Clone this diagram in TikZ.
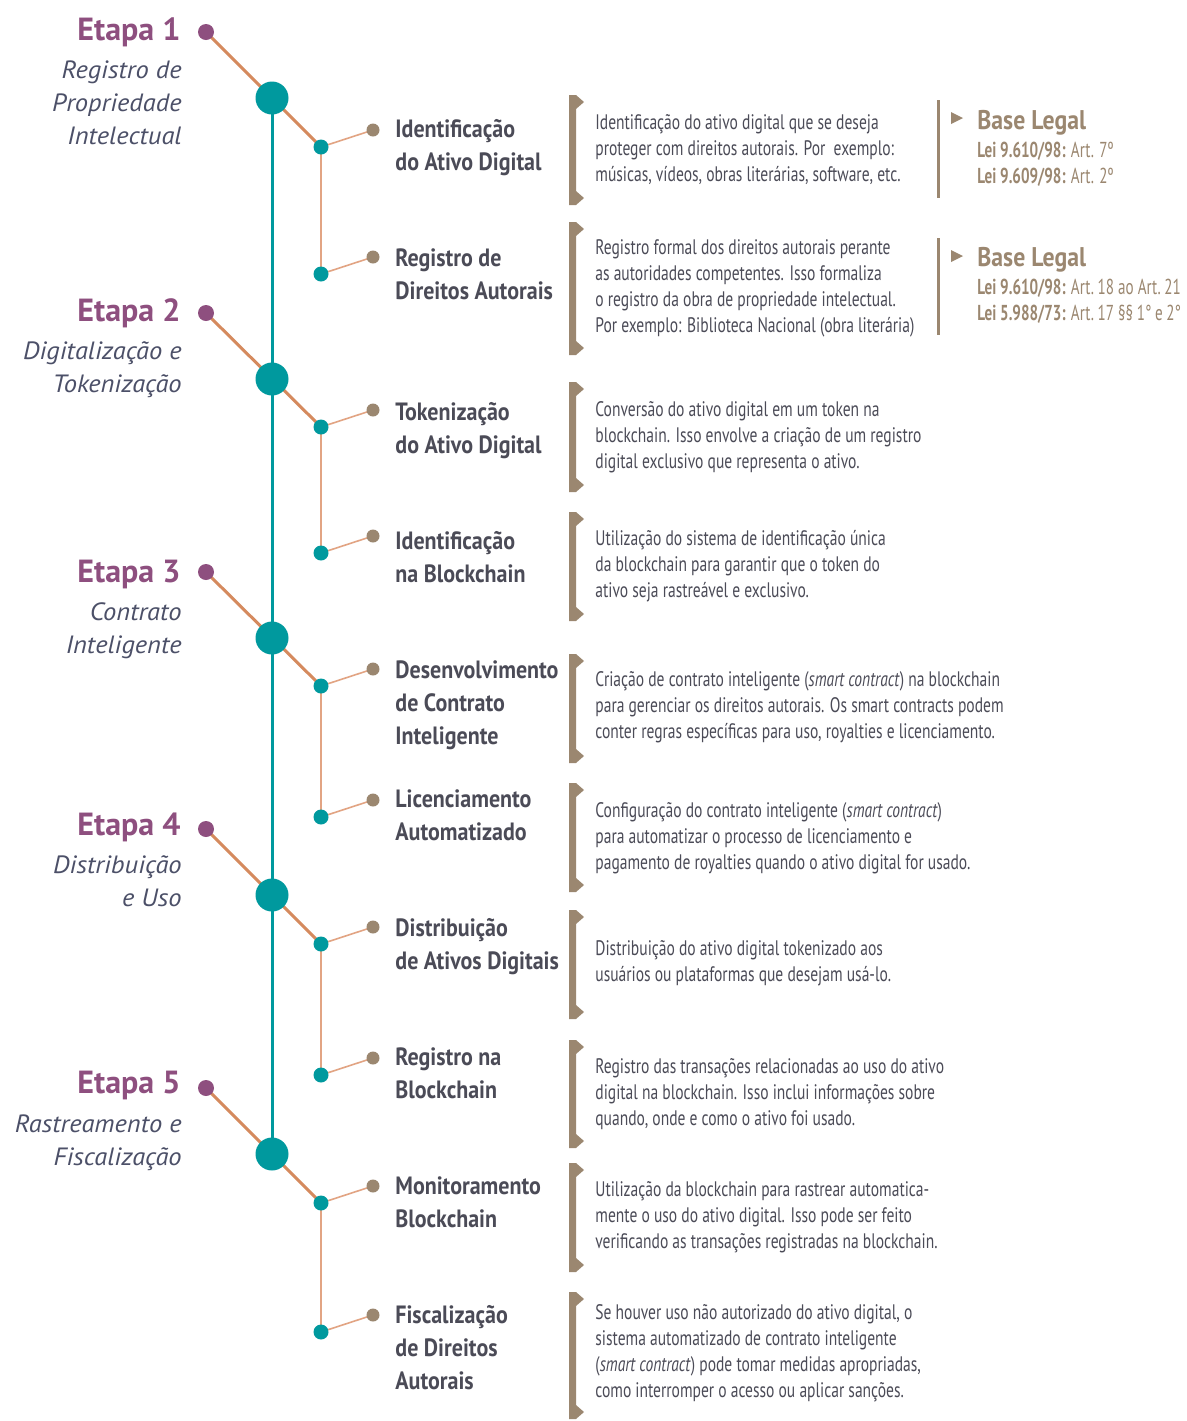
\documentclass[tikz,border=0pt]{standalone}
\usepackage{fontspec}
\setmainfont{PT Sans}
\newfontfamily\condfont{PT Sans}[FakeStretch=0.74]
\newfontfamily\legalfont{PT Sans}[FakeStretch=0.7]
\newfontfamily\labelfont{PT Sans}[FakeStretch=0.88]
\newfontfamily\stagefont{PT Sans}[FakeStretch=1.0]
\newfontfamily\subfont{PT Sans}[FakeStretch=1.06]
\usetikzlibrary{backgrounds}
\definecolor{Pc}{HTML}{8E4F7F}
\definecolor{Tc}{HTML}{00999E}
\definecolor{Oc}{HTML}{D58A5E}
\definecolor{Lc}{HTML}{E2A483}
\definecolor{Bc}{HTML}{9B8770}
\definecolor{Gc}{HTML}{4B4B57}
\definecolor{Ic}{HTML}{4C5068}

% bracket in front of each description
\newcommand{\descbar}[2]{%
  \fill[Bc] (569,#1) -- (576,#1) -- (584,#1+7) -- (576,#1+14)
    -- (576,#2-14) -- (584,#2-7) -- (576,#2) -- (569,#2) -- cycle;}

\begin{document}
\begin{tikzpicture}[x=0.5pt, y=-0.5pt,
    stagedot/.style={circle, fill=Pc, minimum size=8pt, inner sep=0pt},
    hub/.style={circle, fill=Tc, minimum size=16.5pt, inner sep=0pt},
    joint/.style={circle, fill=Tc, minimum size=7.5pt, inner sep=0pt},
    tip/.style={circle, fill=Bc, minimum size=6.5pt, inner sep=0pt},
    stagetitle/.style={anchor=base east, inner sep=0pt, text=Pc,
      font=\stagefont\bfseries\fontsize{16}{18}\selectfont},
    stagesub/.style={anchor=base east, align=right, inner sep=0pt, text=Ic,
      font=\subfont\itshape\fontsize{12.5}{16.5}\selectfont},
    steplabel/.style={anchor=base west, align=left, inner sep=0pt, text=Gc,
      font=\labelfont\bfseries\fontsize{12.5}{16.5}\selectfont},
    desc/.style={anchor=base west, align=left, inner sep=0pt, text=Gc,
      font=\condfont\fontsize{10.5}{13}\selectfont},
    legal/.style={anchor=base west, align=left, inner sep=0pt, text=Bc,
      font=\legalfont\fontsize{10.8}{13}\selectfont},
    legaltitle/.style={anchor=base west, inner sep=0pt, text=Bc,
      font=\labelfont\bfseries\fontsize{13.5}{16}\selectfont}]
  \useasboundingbox (0,0) rectangle (1187,1421);

  % dots of the timeline
  \foreach \i/\py/\ay/\by in {1/32/147/274, 2/313/427/553, 3/572/686/817,
      4/829/944/1075, 5/1088/1203/1332} {
    \node[stagedot] (p\i) at (206,\py) {};
    \node[hub] (b\i) at (272,\py+66) {};
    \node[joint] (ja\i) at (321,\ay) {};
    \node[joint] (jb\i) at (321,\by) {};
    \node[tip] (ta\i) at (373,\ay-17) {};
    \node[tip] (tb\i) at (373,\by-17) {};
  }

  \begin{scope}[on background layer]
    \fill[white] (0,0) rectangle (1187,1421);
    \draw[Tc, line width=1.5pt] (b1.center) -- (b5.center);
    \foreach \i in {1,...,5} {
      \draw[Oc, line width=1.5pt] (p\i.center) -- (ja\i.center);
      \draw[Lc, line width=0.8pt] (ja\i.center) -- (jb\i.center);
      \draw[Lc, line width=0.8pt] (ja\i.center) -- (ta\i.center);
      \draw[Lc, line width=0.8pt] (jb\i.center) -- (tb\i.center);
    }
  \end{scope}

  % stages (multi-line nodes sit on their last baseline)
  \node[stagetitle] (e1) at (181,40.5) {Etapa 1};
  \node[stagesub] (e1t) at (182,144.5) {Registro de\\Propriedade\\Intelectual};
  \node[stagetitle] (e2) at (181,321.5) {Etapa 2};
  \node[stagesub] (e2t) at (182,392.5) {Digitalização e\\Tokenização};
  \node[stagetitle] (e3) at (181,582.5) {Etapa 3};
  \node[stagesub] (e3t) at (182,653.5) {Contrato\\Inteligente};
  \node[stagetitle] (e4) at (181,835.5) {Etapa 4};
  \node[stagesub] (e4t) at (182,906.5) {Distribuição\\e Uso};
  \node[stagetitle] (e5) at (181,1093.5) {Etapa 5};
  \node[stagesub] (e5t) at (182,1165.5) {Rastreamento e\\Fiscalização};

  % step labels
  \node[steplabel] (l1) at (395,170) {Identificação\\do Ativo Digital};
  \node[steplabel] (l2) at (395,299) {Registro de\\Direitos Autorais};
  \node[steplabel] (l3) at (395,453) {Tokenização\\do Ativo Digital};
  \node[steplabel] (l4) at (395,582) {Identificação\\na Blockchain};
  \node[steplabel] (l5) at (395,744) {Desenvolvimento\\de Contrato\\Inteligente};
  \node[steplabel] (l6) at (395,840) {Licenciamento\\Automatizado};
  \node[steplabel] (l7) at (395,969) {Distribuição\\de Ativos Digitais};
  \node[steplabel] (l8) at (395,1098) {Registro na\\Blockchain};
  \node[steplabel] (l9) at (395,1227) {Monitoramento\\Blockchain};
  \node[steplabel] (l10) at (395,1389) {Fiscalização\\de Direitos\\Autorais};

  % descriptions
  \descbar{95}{205}
  \node[desc] (t1) at (595,181.5) {Identificação do ativo digital que se deseja\\proteger com direitos autorais. Por\ \ exemplo:\\músicas, vídeos, obras literárias, software, etc.};
  \descbar{222}{355}
  \node[desc] (t2) at (595,332.5) {Registro formal dos direitos autorais perante\\as autoridades competentes. Isso formaliza\\o registro da obra de propriedade intelectual.\\Por exemplo: Biblioteca Nacional (obra literária)};
  \descbar{382}{492}
  \node[desc] (t3) at (595,468.5) {Conversão do ativo digital em um token na\\blockchain. Isso envolve a criação de um registro\\digital exclusivo que representa o ativo.};
  \descbar{512}{621}
  \node[desc] (t4) at (595,597.5) {Utilização do sistema de identificação única\\da blockchain para garantir que o token do\\ativo seja rastreável e exclusivo.};
  \descbar{654}{763}
  \node[desc] (t5) at (595,738.5) {Criação de contrato inteligente (\textit{smart contract}) na blockchain\\para gerenciar os direitos autorais. Os smart contracts podem\\conter regras específicas para uso, royalties e licenciamento.};
  \descbar{783}{892}
  \node[desc] (t6) at (595,869.5) {Configuração do contrato inteligente (\textit{smart contract})\\para automatizar o processo de licenciamento e\\pagamento de royalties quando o ativo digital for usado.};
  \descbar{910}{1019}
  \node[desc] (t7) at (595,981.5) {Distribuição do ativo digital tokenizado aos\\usuários ou plataformas que desejam usá-lo.};
  \descbar{1040}{1148}
  \node[desc] (t8) at (595,1125.5) {Registro das transações relacionadas ao uso do ativo\\digital na blockchain. Isso inclui informações sobre\\quando, onde e como o ativo foi usado.};
  \descbar{1163}{1272}
  \node[desc] (t9) at (595,1248.5) {Utilização da blockchain para rastrear automatica-\\mente o uso do ativo digital. Isso pode ser feito\\verificando as transações registradas na blockchain.};
  \descbar{1292}{1419}
  \node[desc] (t10) at (595,1397.5) {Se houver uso não autorizado do ativo digital, o\\sistema automatizado de contrato inteligente\\(\textit{smart contract}) pode tomar medidas apropriadas,\\como interromper o acesso ou aplicar sanções.};

  % legal basis
  \draw[Bc, line width=1.5pt] (938,100) -- (938,198);
  \fill[Bc] (951,112) -- (963,118) -- (951,124) -- cycle;
  \node[legaltitle] (g1) at (977,129) {Base Legal};
  \node[legal] (g1t) at (977,183) {\textbf{Lei 9.610/98:} Art. 7º\\\textbf{Lei 9.609/98:} Art. 2º};
  \draw[Bc, line width=1.5pt] (938,238) -- (938,335);
  \fill[Bc] (951,250) -- (963,256) -- (951,262) -- cycle;
  \node[legaltitle] (g2) at (977,266) {Base Legal};
  \node[legal] (g2t) at (977,320) {\textbf{Lei 9.610/98:} Art.\,18 ao Art.\,21\\\textbf{Lei 5.988/73:} Art.\,17 §§\,1°\,e\,2°};
\end{tikzpicture}
\end{document}
